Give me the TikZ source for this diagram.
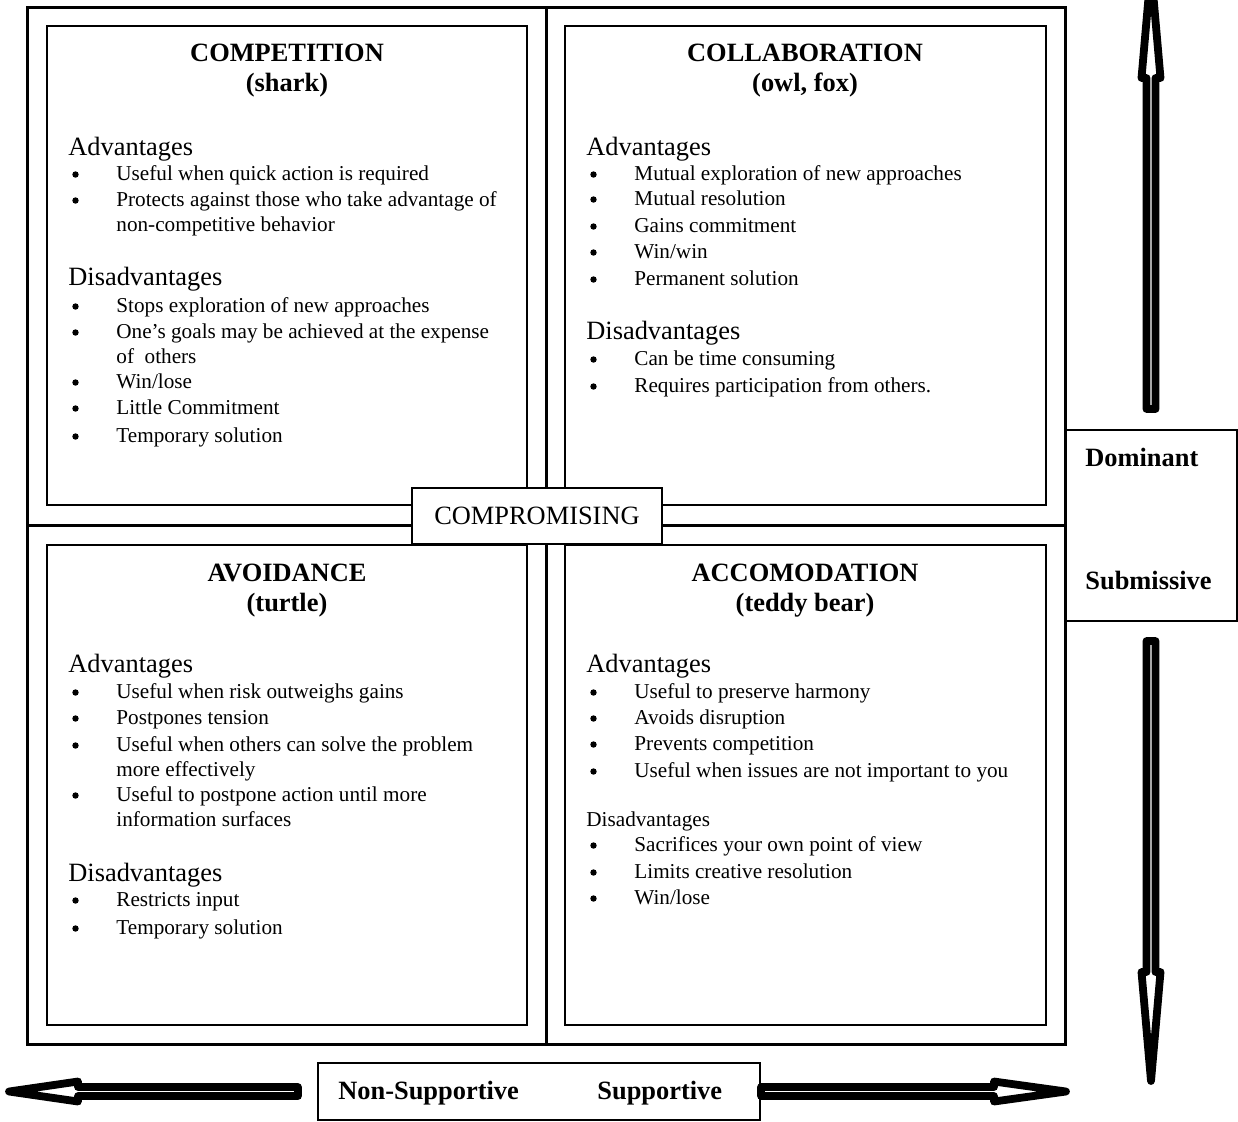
\documentclass[tikz,border=0pt]{standalone}
\usepackage{fontspec}
\setmainfont{Liberation Serif}
\usetikzlibrary{calc}
\newcounter{ln}
\tikzset{
  big/.style={inner sep=0pt, font=\fontsize{13.2pt}{15pt}\selectfont},
  bigb/.style={inner sep=0pt, font=\fontsize{13.2pt}{15pt}\selectfont\bfseries},
  small/.style={inner sep=0pt, font=\fontsize{10.6pt}{13pt}\selectfont},
  frame/.style={line width=1.5pt},
  qbox/.style={draw, line width=0.8pt, inner sep=0pt, minimum width=240pt, minimum height=239.5pt},
  lbox/.style={draw, line width=0.8pt, fill=white, inner sep=0pt},
  fatarrow/.style={draw, line width=3.9pt, line join=round, fill=white},
  dot/.style={fill=black},
}
\newcommand\hd[3]{\stepcounter{ln}\node[big,anchor=mid west,yshift=-1.5pt] (h\arabic{ln}) at (#1,#2) {#3};}
\newcommand\hs[3]{\stepcounter{ln}\node[small,anchor=mid west,yshift=-1pt] (h\arabic{ln}) at (#1,#2) {#3};}
\newcommand\bu[3]{\stepcounter{ln}\fill[dot] ($(#1,#2)+(3.5,0.5)$) circle[radius=1.6pt];\node[small,anchor=mid west,yshift=-1pt] (b\arabic{ln}) at ($(#1,#2)+(44,0)$) {#3};}
\newcommand\cl[3]{\stepcounter{ln}\node[small,anchor=mid west,yshift=-1pt] (c\arabic{ln}) at (#1,#2) {#3};}
\begin{document}
\begin{tikzpicture}[x=0.5pt,y=-0.5pt]
\useasboundingbox (0,0) rectangle (1238,1121);
\clip (0,0) rectangle (1238,1121);
% outer frame and cross
\draw[frame] (27,7) rectangle (1065,1044);
\draw[frame] (546,7) -- (546,1044);
\draw[frame] (27,525) -- (1065,525);
% quadrant boxes
\node[qbox] (tl) at (287,265.5) {};
\node[qbox, minimum width=240.5pt] (tr) at (805.5,265.5) {};
\node[qbox, minimum height=240pt] (bl) at (287,785) {};
\node[qbox, minimum width=240.5pt, minimum height=240pt] (br) at (805.5,785) {};
% compromising
\node[lbox, big, minimum width=125pt, minimum height=28pt] (comp) at (537,516) {COMPROMISING};
% side boxes
\node[lbox, minimum width=85.5pt, minimum height=95.5pt] (dom) at (1151.5,525.5) {};
\node[bigb, anchor=mid west] (domt) at (1085,462) {Dominant};
\node[bigb, anchor=mid west] (subt) at (1085,585) {Submissive};
\node[lbox, minimum width=221pt, minimum height=28.5pt] (sup) at (539,1091.5) {};
\node[bigb, anchor=mid west] (nst) at (338,1095) {Non-Supportive};
\node[bigb, anchor=mid west] (spt) at (597,1095) {Supportive};
% arrows
\draw[fatarrow] (1146.5,409) -- (1146.5,78) -- (1141.5,78) -- (1151,-31) -- (1160.5,78) -- (1155.5,78) -- (1155.5,409) -- cycle;
\draw[fatarrow] (1146.5,641) -- (1146.5,972) -- (1141.5,972) -- (1151,1081) -- (1160.5,972) -- (1155.5,972) -- (1155.5,641) -- cycle;
\draw[fatarrow] (298,1087) -- (78,1087) -- (78,1081.5) -- (9,1091.5) -- (78,1101.5) -- (78,1096) -- (298,1096) -- cycle;
\draw[fatarrow] (761,1087) -- (994,1087) -- (994,1081.5) -- (1066,1091.5) -- (994,1101.5) -- (994,1096) -- (761,1096) -- cycle;
% top-left
\node[bigb] (t1) at (287,53) {COMPETITION};
\node[bigb] (t1b) at (287,85) {(shark)};
\hd{68}{148}{Advantages}
\bu{72}{174}{Useful when quick action is required}
\bu{72}{200}{Protects against those who take advantage of}
\cl{116}{225}{non-competitive behavior}
\hd{68}{278}{Disadvantages}
\bu{72}{306}{Stops exploration of new approaches}
\bu{72}{332}{One’s goals may be achieved at the expense}
\cl{116}{357}{of \ others}
\bu{72}{382}{Win/lose}
\bu{72}{408}{Little Commitment}
\bu{72}{436}{Temporary solution}
% top-right
\node[bigb] (t2) at (805,53) {COLLABORATION};
\node[bigb] (t2b) at (805,85) {(owl, fox)};
\hd{586}{148}{Advantages}
\bu{590}{174}{Mutual exploration of new approaches}
\bu{590}{199}{Mutual resolution}
\bu{590}{226}{Gains commitment}
\bu{590}{252}{Win/win}
\bu{590}{279}{Permanent solution}
\hd{586}{332}{Disadvantages}
\bu{590}{359}{Can be time consuming}
\bu{590}{386}{Requires participation from others.}
% bottom-left
\node[bigb] (t3) at (287,573) {AVOIDANCE};
\node[bigb] (t3b) at (287,605) {(turtle)};
\hd{68}{665}{Advantages}
\bu{72}{692}{Useful when risk outweighs gains}
\bu{72}{718}{Postpones tension}
\bu{72}{745}{Useful when others can solve the problem}
\cl{116}{770}{more effectively}
\bu{72}{795}{Useful to postpone action until more}
\cl{116}{820}{information surfaces}
\hd{68}{874}{Disadvantages}
\bu{72}{900}{Restricts input}
\bu{72}{928}{Temporary solution}
% bottom-right
\node[bigb] (t4) at (805,573) {ACCOMODATION};
\node[bigb] (t4b) at (805,605) {(teddy bear)};
\hd{586}{665}{Advantages}
\bu{590}{692}{Useful to preserve harmony}
\bu{590}{718}{Avoids disruption}
\bu{590}{744}{Prevents competition}
\bu{590}{771}{Useful when issues are not important to you}
\hs{586}{820}{Disadvantages}
\bu{590}{845}{Sacrifices your own point of view}
\bu{590}{872}{Limits creative resolution}
\bu{590}{898}{Win/lose}
\end{tikzpicture}
\end{document}
